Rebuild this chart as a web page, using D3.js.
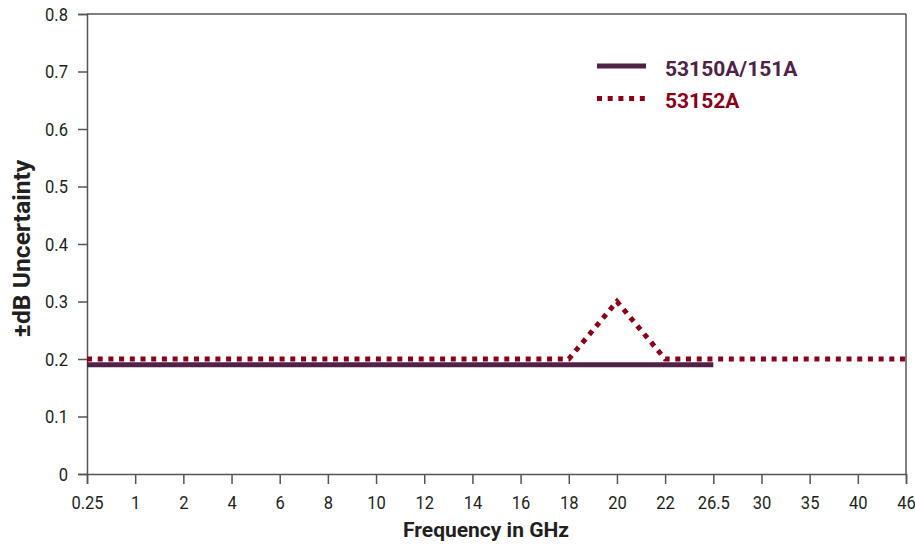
<!DOCTYPE html>
<html>
<head>
<meta charset="utf-8">
<script src="https://cdn.jsdelivr.net/npm/d3@7"></script>
<style>
  body { margin: 0; background: #fff; }
  svg { display: block; }
  text { font-family: Roboto, 'Liberation Sans', sans-serif; }
</style>
</head>
<body>
<svg id="chart" width="915" height="546"></svg>
<script>
const categories = ["0.25","1","2","4","6","8","10","12","14","16","18","20","22","26.5","30","35","40","46"];
const yTicks = [0, 0.1, 0.2, 0.3, 0.4, 0.5, 0.6, 0.7, 0.8];
const series1Name = "53150A/151A";
const series1X = ["0.25", "26.5"];
const series1Y = [0.19, 0.19];
const series2Name = "53152A";
const series2X = ["0.25", "18", "20", "22", "46"];
const series2Y = [0.2, 0.2, 0.3, 0.2, 0.2];

const color1 = "#4f2246";
const color2 = "#8b0018";
const axisColor = "#555";
const textColor = "#231f20";

const margin = {left: 87, right: 9, top: 14, bottom: 72};
const W = 915, H = 546;
const svg = d3.select("#chart");

const x = d3.scalePoint().domain(categories).range([margin.left, W - margin.right]);
const y = d3.scaleLinear().domain([0, 0.8]).range([H - margin.bottom, margin.top]);

// frame top/right
svg.append("line").attr("x1", margin.left).attr("x2", W - margin.right)
  .attr("y1", y(0.8)).attr("y2", y(0.8)).attr("stroke", axisColor).attr("stroke-width", 1.5);
svg.append("line").attr("x1", W - margin.right).attr("x2", W - margin.right)
  .attr("y1", y(0.8)).attr("y2", y(0)).attr("stroke", axisColor).attr("stroke-width", 1.5);

// y axis
const yAxis = svg.append("g").attr("transform", `translate(${margin.left},0)`)
  .call(d3.axisLeft(y).tickValues(yTicks).tickSize(9).tickPadding(0).tickFormat(d => d === 0 ? "0" : d3.format(".1f")(d)));
// x axis
const xAxis = svg.append("g").attr("transform", `translate(0,${y(0)})`)
  .call(d3.axisBottom(x).tickSize(10).tickPadding(12));

[yAxis, xAxis].forEach(g => {
  g.select(".domain").attr("stroke", axisColor).attr("stroke-width", 1.5);
  g.selectAll(".tick line").attr("stroke", axisColor).attr("stroke-width", 1.5);
  g.selectAll(".tick text").attr("fill", textColor).style("font-size", "19px");
});
xAxis.selectAll(".tick text").attr("transform", "scale(0.87,1)");
yAxis.selectAll(".tick text").attr("x", 0).attr("transform", "translate(-19,0) scale(0.87,1)");

// lines
const line = d3.line().x(d => x(d[0])).y(d => y(d[1]));
svg.append("path").datum(series1X.map((c, i) => [c, series1Y[i]]))
  .attr("d", line).attr("fill", "none").attr("stroke", color1).attr("stroke-width", 5);
svg.append("path").datum(series2X.map((c, i) => [c, series2Y[i]]))
  .attr("d", line).attr("fill", "none").attr("stroke", color2).attr("stroke-width", 5)
  .attr("stroke-dasharray", "5,5.7");

// legend
const lg = svg.append("g");
lg.append("line").attr("x1", 597).attr("x2", 646).attr("y1", 66).attr("y2", 66)
  .attr("stroke", color1).attr("stroke-width", 5);
lg.append("text").attr("x", 665).attr("y", 76).text(series1Name)
  .attr("fill", color1).style("font-size", "21px").style("font-weight", "bold");
lg.append("line").attr("x1", 597).attr("x2", 646).attr("y1", 98.5).attr("y2", 98.5)
  .attr("stroke", color2).attr("stroke-width", 5).attr("stroke-dasharray", "5,5.7");
lg.append("text").attr("x", 665).attr("y", 108).text(series2Name)
  .attr("fill", color2).style("font-size", "21px").style("font-weight", "bold");

// axis titles
svg.append("text").attr("transform", "translate(486,537)").attr("text-anchor", "middle")
  .text("Frequency in GHz").attr("fill", textColor).style("font-size", "21px").style("font-weight", "bold");
svg.append("text").attr("transform", "translate(30,248.5) rotate(-90) scale(1.05,1)").attr("text-anchor", "middle")
  .text("±dB Uncertainty").attr("fill", textColor).style("font-size", "23.5px").style("font-weight", "bold");
</script>
</body>
</html>
